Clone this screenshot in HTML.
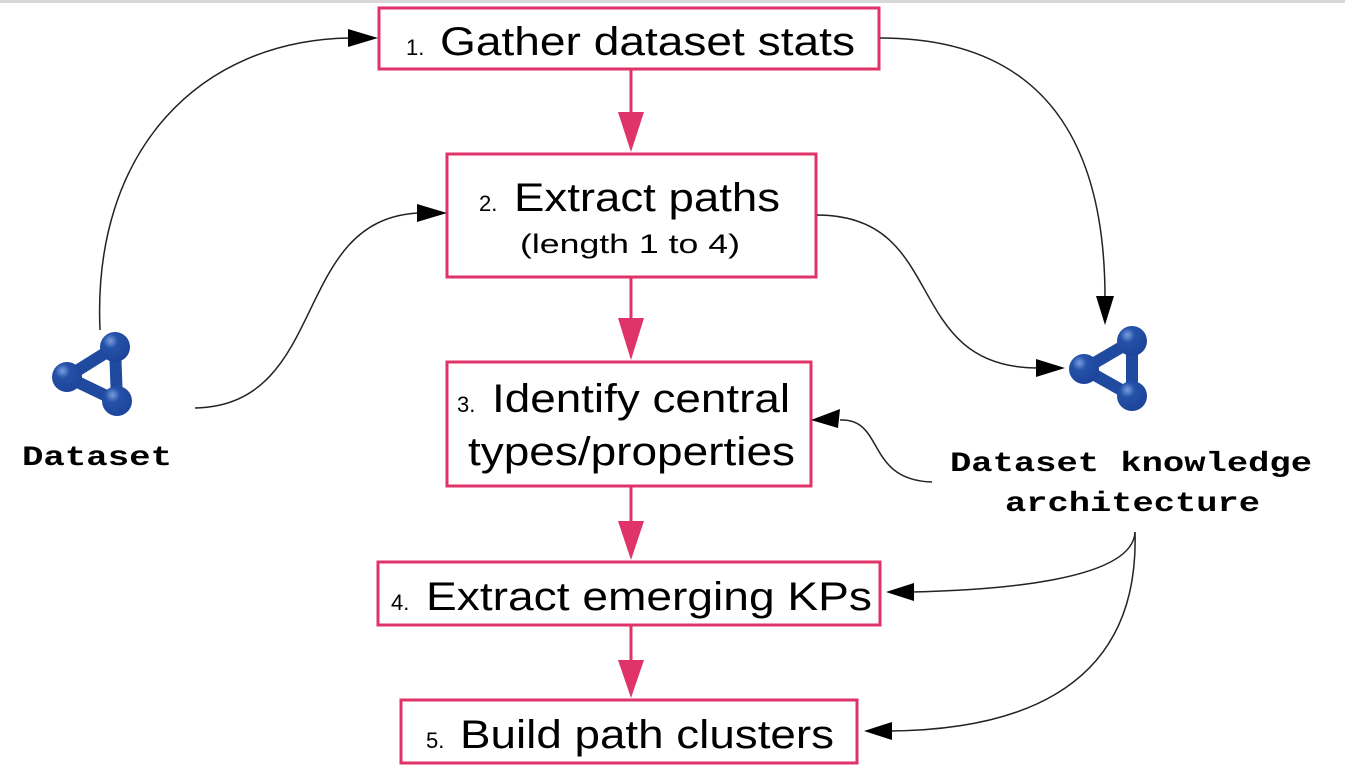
<!DOCTYPE html>
<html><head><style>
html,body{margin:0;padding:0;background:#fff;}
svg{display:block;}
.t{font-family:"Liberation Sans",sans-serif;fill:#000;}
.m{font-family:"Liberation Mono",monospace;font-weight:bold;fill:#000;}
</style></head><body>
<svg width="1345" height="780" viewBox="0 0 1345 780" xmlns="http://www.w3.org/2000/svg">
<defs>
<radialGradient id="g" cx="0.35" cy="0.3" r="0.7"><stop offset="0" stop-color="#7b9ddf"/><stop offset="0.35" stop-color="#2452a8"/><stop offset="1" stop-color="#1d449a"/></radialGradient>
</defs>
<rect x="0" y="0" width="1345" height="3" fill="#d8d8d8"/>
<g fill="none" stroke="#e0336a" stroke-width="3">
<rect x="379" y="8" width="500" height="61"/>
<rect x="447" y="154" width="369" height="123"/>
<rect x="447" y="362" width="364" height="124"/>
<rect x="378" y="562" width="502" height="63"/>
<rect x="401" y="700" width="456" height="63"/>
<line x1="631" y1="69" x2="631" y2="120"/>
<line x1="631" y1="277" x2="631" y2="320"/>
<line x1="631" y1="486" x2="631" y2="525"/>
<line x1="631" y1="625" x2="631" y2="660"/>
</g>
<g fill="#e0336a">
<polygon points="618,112 644,112 631,152"/>
<polygon points="618,318 644,318 631,360"/>
<polygon points="618,521 644,521 631,560"/>
<polygon points="618,660 644,660 631,698"/>
</g>
<g fill="none" stroke="#222" stroke-width="1.5">
<path d="M100,330 C92,150 200,40 350,38"/>
<path d="M195,408 C330,405 290,220 418,213"/>
<path d="M880,38 C1050,38 1105,150 1105,298"/>
<path d="M817,215 C950,215 900,368 1038,368"/>
<path d="M932,482 C865,480 885,418 840,420"/>
<path d="M1135,532 C1133,580 1000,590 912,592"/>
<path d="M1135,532 C1140,700 1000,730 890,731"/>
</g>
<g fill="#000">
<polygon points="378,38 348,29 348,47"/>
<polygon points="447,213 417,204 417,222"/>
<polygon points="1105,325 1096,296 1114,296"/>
<polygon points="1065,368 1036,359 1036,377"/>
<polygon points="811,420 840,409 838,428"/>
<polygon points="886,592 914,583 914,601"/>
<polygon points="864,731 892,722 892,740"/>
</g>
<g>
<g stroke="#1f4aa0" stroke-width="12" fill="none" stroke-linejoin="round"><polygon points="115,347 67,377 117,401"/></g>
<circle cx="115" cy="347" r="15" fill="url(#g)"/><circle cx="67" cy="377" r="15" fill="url(#g)"/><circle cx="117" cy="401" r="15" fill="url(#g)"/>
<g stroke="#1f4aa0" stroke-width="12" fill="none" stroke-linejoin="round"><polygon points="1132,341 1084,369 1132,396"/></g>
<circle cx="1132" cy="341" r="15" fill="url(#g)"/><circle cx="1084" cy="369" r="15" fill="url(#g)"/><circle cx="1132" cy="396" r="15" fill="url(#g)"/>
</g>
<text class="t" x="406" y="55" font-size="22">1.</text><text class="t" x="440" y="55" font-size="40" textLength="415" lengthAdjust="spacingAndGlyphs">Gather dataset stats</text>
<text class="t" x="479" y="211" font-size="22">2.</text><text class="t" x="514" y="211" font-size="40" textLength="266" lengthAdjust="spacingAndGlyphs">Extract paths</text>
<text class="t" x="520" y="253" font-size="27" textLength="220" lengthAdjust="spacingAndGlyphs">(length 1 to 4)</text>
<text class="t" x="457" y="412" font-size="22">3.</text><text class="t" x="492" y="412" font-size="40" textLength="298" lengthAdjust="spacingAndGlyphs">Identify central</text>
<text class="t" x="468" y="465" font-size="40" textLength="327" lengthAdjust="spacingAndGlyphs">types/properties</text>
<text class="t" x="391" y="610" font-size="22">4.</text><text class="t" x="426" y="610" font-size="40" textLength="446" lengthAdjust="spacingAndGlyphs">Extract emerging KPs</text>
<text class="t" x="426" y="748" font-size="22">5.</text><text class="t" x="460" y="748" font-size="40" textLength="374" lengthAdjust="spacingAndGlyphs">Build path clusters</text>
<text class="m" x="22" y="465" font-size="28" textLength="150" lengthAdjust="spacingAndGlyphs">Dataset</text>
<text class="m" x="950" y="471" font-size="28" textLength="362" lengthAdjust="spacingAndGlyphs">Dataset knowledge</text>
<text class="m" x="1005" y="511" font-size="28" textLength="255" lengthAdjust="spacingAndGlyphs">architecture</text>
</svg>
</body></html>
